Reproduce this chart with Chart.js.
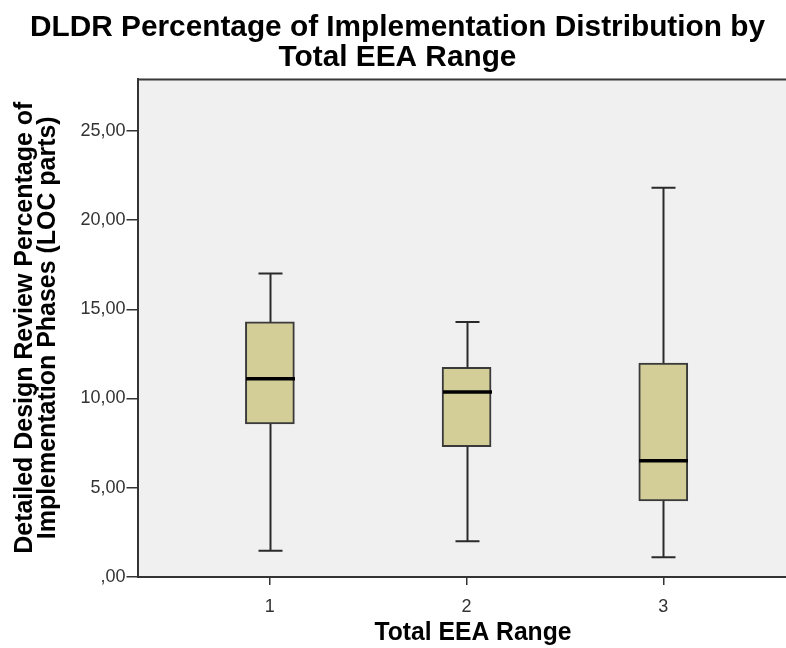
<!DOCTYPE html>
<html>
<head>
<meta charset="utf-8">
<script src="https://cdn.jsdelivr.net/npm/chart.js@4/dist/chart.umd.min.js"></script>
<style>
  html, body { margin: 0; padding: 0; background: #ffffff; overflow: hidden; }
  #wrap { width: 786px; height: 648px; }
</style>
</head>
<body>
<div id="wrap"><canvas id="c" width="786" height="648"></canvas></div>
<script>
// Groups on the x axis
const categories = ['1', '2', '3'];
// Five-number summaries per group
const lowerWhisker = [1.47, 2.00, 1.10];
const quartile1    = [8.57, 7.30, 4.26];
const median       = [11.11, 10.36, 6.52];
const quartile3    = [14.29, 11.75, 11.99];
const upperWhisker = [17.00, 14.29, 21.81];
// Value axis ticks
const yTicks = [0, 5, 10, 15, 20, 25];

// Text
const titleLines = ['DLDR Percentage of Implementation Distribution by', 'Total EEA Range'];
const xTitle = 'Total EEA Range';
const yTitleLines = ['Detailed Design Review Percentage of', 'Implementation Phases (LOC parts)'];

const boxFill = '#d3ce98';
const lineDark = '#2a2a2a';
const FONT = 'Liberation Sans, Arial, sans-serif';

const fmt = v => v === 0 ? ',00' : v.toFixed(2).replace('.', ',');

const boxData = categories.map((c, i) => ({ x: i + 1, y: [quartile1[i], quartile3[i]] }));

// Bold label, scaled along its reading direction by sx
function boldText(ctx, text, cx, baseY, size, sx, rotate) {
  ctx.save();
  ctx.font = 'bold ' + size + 'px ' + FONT;
  ctx.translate(cx, baseY);
  if (rotate) ctx.rotate(-Math.PI / 2);
  ctx.scale(sx, 1);
  ctx.textAlign = 'center';
  ctx.textBaseline = 'alphabetic';
  ctx.fillStyle = '#000000';
  ctx.fillText(text, 0, 0);
  ctx.restore();
}

function fitScale(ctx, text, size, length) {
  ctx.save();
  ctx.font = 'bold ' + size + 'px ' + FONT;
  const s = length / ctx.measureText(text).width;
  ctx.restore();
  return s;
}

const boxPlotPlugin = {
  id: 'boxPlotParts',
  beforeDraw(chart) {
    const { ctx, chartArea: a } = chart;
    ctx.save();
    ctx.fillStyle = '#f0f0f0';
    ctx.fillRect(a.left, a.top, a.right - a.left, a.bottom - a.top);
    ctx.restore();
  },
  afterDatasetsDraw(chart) {
    const { ctx, chartArea: a, scales: { x, y } } = chart;
    ctx.save();
    // top frame line
    ctx.strokeStyle = '#3a3a3a';
    ctx.lineWidth = 2;
    ctx.beginPath();
    ctx.moveTo(a.left, a.top + 1);
    ctx.lineTo(a.right, a.top + 1);
    ctx.stroke();

    const capHalf = 12;
    const boxHalf = 24.5;
    categories.forEach((c, i) => {
      const cx = Math.round(x.getPixelForValue(i + 1)) + 0.5;
      const yLo = y.getPixelForValue(lowerWhisker[i]);
      const yQ1 = y.getPixelForValue(quartile1[i]);
      const yQ3 = y.getPixelForValue(quartile3[i]);
      const yHi = y.getPixelForValue(upperWhisker[i]);
      const yMed = y.getPixelForValue(median[i]);

      ctx.strokeStyle = lineDark;
      ctx.lineWidth = 2;
      ctx.beginPath();
      // whisker stems
      ctx.moveTo(cx, yQ3); ctx.lineTo(cx, yHi);
      ctx.moveTo(cx, yQ1); ctx.lineTo(cx, yLo);
      // whisker caps
      ctx.moveTo(cx - capHalf, yHi); ctx.lineTo(cx + capHalf, yHi);
      ctx.moveTo(cx - capHalf, yLo); ctx.lineTo(cx + capHalf, yLo);
      ctx.stroke();

      // median line
      ctx.strokeStyle = '#000000';
      ctx.lineWidth = 3.5;
      ctx.beginPath();
      ctx.moveTo(cx - boxHalf, yMed); ctx.lineTo(cx + boxHalf, yMed);
      ctx.stroke();
    });
    ctx.restore();
  },
  afterDraw(chart) {
    const { ctx, chartArea: a } = chart;
    // chart title, two lines
    const st = fitScale(ctx, titleLines[0], 30, 735);
    boldText(ctx, titleLines[0], 397.5, 36, 30, st, false);
    boldText(ctx, titleLines[1], 397.5, 66, 30, st, false);
    // x axis title
    const sx = fitScale(ctx, xTitle, 25, 197);
    boldText(ctx, xTitle, 473, 640, 25, sx, false);
    // y axis title, two lines
    const midY = (a.top + a.bottom) / 2;
    const sy = fitScale(ctx, yTitleLines[0], 25, 452);
    boldText(ctx, yTitleLines[0], 32, midY, 25, sy, true);
    boldText(ctx, yTitleLines[1], 55, midY, 25, sy, true);
  }
};

new Chart(document.getElementById('c'), {
  type: 'bar',
  data: {
    datasets: [{
      data: boxData,
      backgroundColor: boxFill,
      borderColor: '#3a3a3a',
      borderWidth: 2,
      borderSkipped: false,
      barThickness: 49
    }]
  },
  options: {
    responsive: false,
    animation: false,
    devicePixelRatio: 1,
    layout: { padding: { top: 78.5, left: 0, right: 0, bottom: 0 } },
    plugins: {
      legend: { display: false },
      tooltip: { enabled: false },
      title: { display: false }
    },
    scales: {
      x: {
        type: 'linear',
        offset: false,
        min: 0.327,
        max: 3.624,
        afterBuildTicks(scale) { scale.ticks = categories.map((c, i) => ({ value: i + 1 })); },
        afterFit(scale) { scale.height = 71; },
        ticks: {
          callback: (v) => categories[v - 1],
          color: '#333333',
          font: { family: FONT, size: 18 },
          padding: 11,
          maxRotation: 0
        },
        grid: { offset: false, drawOnChartArea: false, drawTicks: true, tickLength: 8, color: '#333333', lineWidth: 1.5 },
        border: { display: true, color: '#333333', width: 2 }
      },
      y: {
        type: 'linear',
        min: 0,
        max: 27.93,
        afterBuildTicks(scale) { scale.ticks = yTicks.map(v => ({ value: v })); },
        afterFit(scale) { scale.width = 137.5; },
        ticks: {
          callback: (v) => fmt(v),
          color: '#333333',
          font: { family: FONT, size: 18 },
          padding: 1
        },
        grid: { drawOnChartArea: false, drawTicks: true, tickLength: 11, color: '#333333', lineWidth: 1.5 },
        border: { display: true, color: '#333333', width: 2 }
      }
    }
  },
  plugins: [boxPlotPlugin]
});
</script>
</body>
</html>
